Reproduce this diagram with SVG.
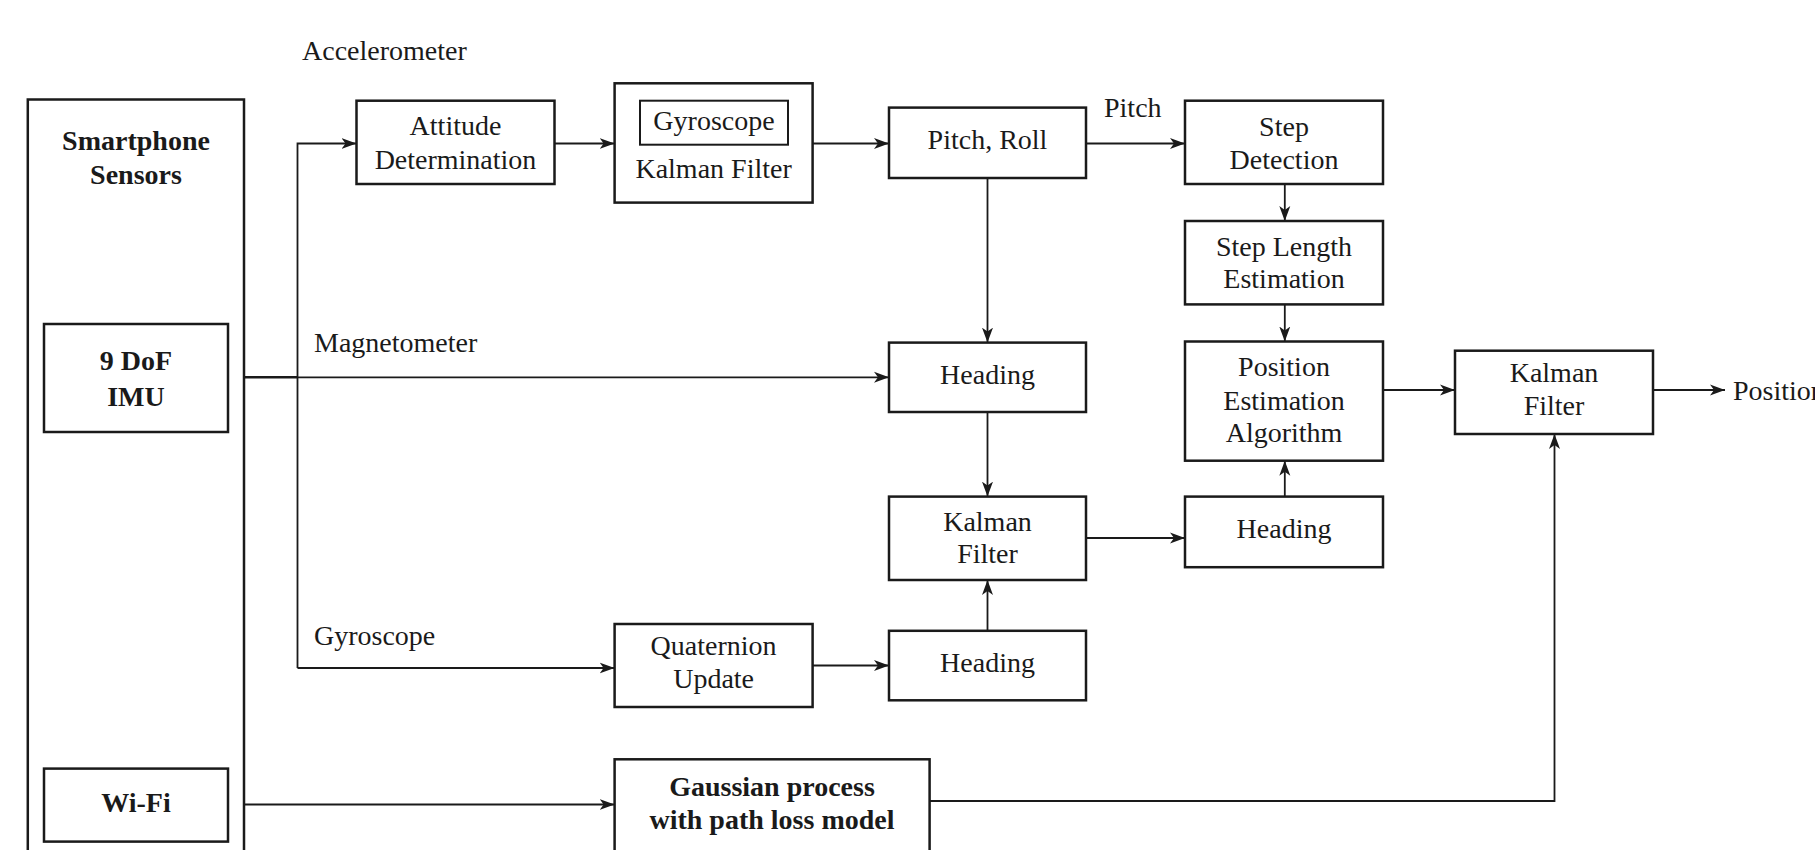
<svg xmlns="http://www.w3.org/2000/svg" width="1815" height="850" viewBox="0 0 1815 850">
<defs>
<style>
.box{fill:#fff;stroke:#1a1a1a;stroke-width:2.5}
.inner{fill:none;stroke:#1a1a1a;stroke-width:2}
.t{font-family:"Liberation Serif","Times New Roman",serif;font-size:28px;fill:#1a1a1a;text-anchor:middle}
.b{font-weight:bold}
.l{text-anchor:start}
.c{fill:none;stroke:#1a1a1a;stroke-width:1.8}
.ca{fill:none;stroke:#1a1a1a;stroke-width:1.8;marker-end:url(#ah)}
</style>
<marker id="ah" markerUnits="userSpaceOnUse" markerWidth="16" markerHeight="12" refX="15" refY="6" orient="auto">
<path d="M0,0.5 L15,6 L0,11.5 L4,6 z" fill="#1a1a1a"/>
</marker>
</defs>
<rect width="1815" height="850" fill="#fff"/>

<g id="connectors">
<path class="c" d="M244,377.3 H297.5" style="stroke-width:2.6"/>
<path class="ca" d="M297.5,668 V143.5 H356.5"/>
<path class="ca" d="M297.5,668 H614.6"/>
<path class="ca" d="M297.5,377.3 H889"/>
<path class="ca" d="M554.5,143.5 H614.6"/>
<path class="ca" d="M812.6,143.5 H889"/>
<path class="ca" d="M1086,143.5 H1185"/>
<path class="ca" d="M987.5,178 V342.6"/>
<path class="ca" d="M987.5,412 V496.6"/>
<path class="ca" d="M987.5,630.8 V580"/>
<path class="ca" d="M812.6,665.5 H889"/>
<path class="ca" d="M1086,538 H1185"/>
<path class="ca" d="M1284.8,184 V221"/>
<path class="ca" d="M1284.8,304.4 V341.5"/>
<path class="ca" d="M1284.8,496.6 V460.7"/>
<path class="ca" d="M1383,390 H1455"/>
<path class="ca" d="M1653,390 H1725"/>
<path class="ca" d="M244,804.5 H614.6"/>
<path class="ca" d="M929.5,801 H1554.5 V434"/>
</g>

<g id="labels">
<text class="t l" x="302" y="60">Accelerometer</text>
<text class="t l" x="314" y="352">Magnetometer</text>
<text class="t l" x="314" y="645">Gyroscope</text>
<text class="t l" x="1104" y="117">Pitch</text>
<text class="t l" x="1733" y="400">Position</text>
</g>

<g id="smartphone">
<rect class="box" x="27.8" y="99.5" width="216.2" height="780"/>
<text class="t b" x="136" y="150">Smartphone</text>
<text class="t b" x="136" y="184">Sensors</text>
</g>
<g id="imu">
<rect class="box" x="44" y="324" width="184" height="108"/>
<text class="t b" x="136" y="370">9 DoF</text>
<text class="t b" x="136" y="406">IMU</text>
</g>
<g id="wifi">
<rect class="box" x="44" y="768.6" width="184" height="73"/>
<text class="t b" x="136" y="812">Wi-Fi</text>
</g>
<g id="attitude">
<rect class="box" x="356.5" y="100.7" width="198" height="83.3"/>
<text class="t" x="455.5" y="135">Attitude</text>
<text class="t" x="455.5" y="169">Determination</text>
</g>
<g id="kalman1">
<rect class="box" x="614.6" y="83.3" width="198" height="119.3"/>
<rect class="inner" x="640" y="100.7" width="148" height="44"/>
<text class="t" x="714" y="130">Gyroscope</text>
<text class="t" x="713.6" y="178">Kalman Filter</text>
</g>
<g id="pitchroll">
<rect class="box" x="889" y="107.6" width="197" height="70.4"/>
<text class="t" x="987.5" y="149">Pitch, Roll</text>
</g>
<g id="stepdet">
<rect class="box" x="1185" y="100.7" width="198" height="83.3"/>
<text class="t" x="1284" y="136">Step</text>
<text class="t" x="1284" y="169">Detection</text>
</g>
<g id="steplen">
<rect class="box" x="1185" y="221" width="198" height="83.4"/>
<text class="t" x="1284" y="255.5">Step Length</text>
<text class="t" x="1284" y="288">Estimation</text>
</g>
<g id="posest">
<rect class="box" x="1185" y="341.5" width="198" height="119.2"/>
<text class="t" x="1284" y="376">Position</text>
<text class="t" x="1284" y="409.5">Estimation</text>
<text class="t" x="1284" y="442">Algorithm</text>
</g>
<g id="kalman3">
<rect class="box" x="1455" y="350.7" width="198" height="83.3"/>
<text class="t" x="1554" y="382">Kalman</text>
<text class="t" x="1554" y="415">Filter</text>
</g>
<g id="heading1">
<rect class="box" x="889" y="342.6" width="197" height="69.4"/>
<text class="t" x="987.5" y="384">Heading</text>
</g>
<g id="kalman2">
<rect class="box" x="889" y="496.6" width="197" height="83.4"/>
<text class="t" x="987.5" y="531">Kalman</text>
<text class="t" x="987.5" y="563">Filter</text>
</g>
<g id="heading2">
<rect class="box" x="1185" y="496.6" width="198" height="70.6"/>
<text class="t" x="1284" y="538">Heading</text>
</g>
<g id="heading3">
<rect class="box" x="889" y="630.8" width="197" height="69.5"/>
<text class="t" x="987.5" y="672">Heading</text>
</g>
<g id="quaternion">
<rect class="box" x="614.6" y="624" width="198" height="83"/>
<text class="t" x="713.6" y="655">Quaternion</text>
<text class="t" x="713.6" y="688">Update</text>
</g>
<g id="gaussian">
<rect class="box" x="614.6" y="759.3" width="315" height="130"/>
<text class="t b" x="772" y="796">Gaussian process</text>
<text class="t b" x="772" y="828.5">with path loss model</text>
</g>
</svg>
